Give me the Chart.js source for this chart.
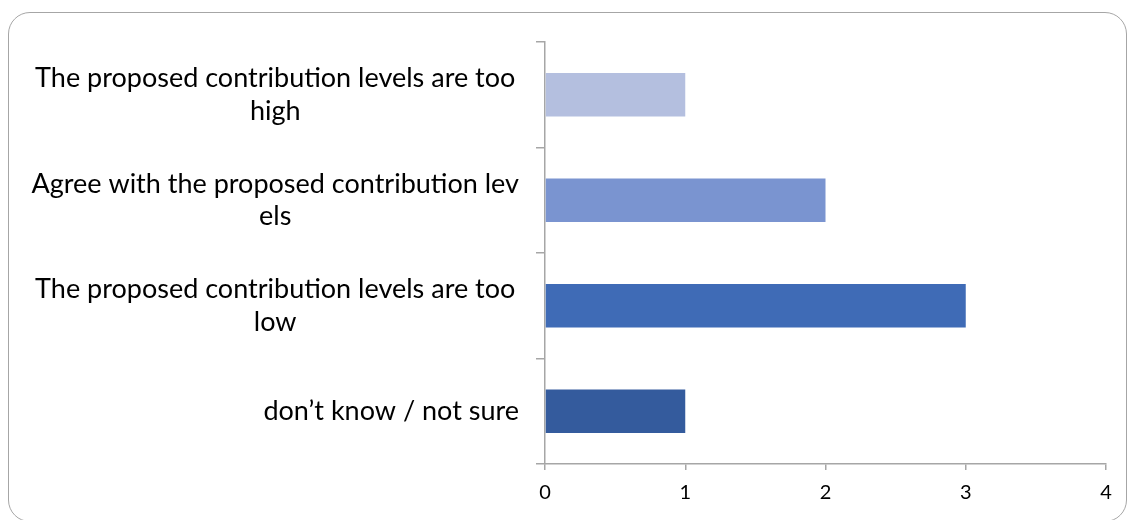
<!DOCTYPE html>
<html>
<head>
<meta charset="utf-8">
<script src="https://cdn.jsdelivr.net/npm/chart.js@4/dist/chart.umd.min.js"></script>
<style>
  html, body { margin: 0; padding: 0; background: #fff; }
  #wrap { position: relative; width: 1129px; height: 520px; overflow: hidden; }
  #frame {
    position: absolute; left: 8px; top: 12px; width: 1119px; height: 510px;
    border: 1.5px solid #a6a6a6; border-radius: 22px; box-sizing: border-box;
    pointer-events: none;
  }
</style>
</head>
<body>
<div id="wrap">
  <canvas id="myChart" width="1129" height="520"></canvas>
  <div id="frame"></div>
</div>
<script>
var categories = [
    ['The proposed contribution levels are too', 'high'],
    ['Agree with the proposed contribution lev', 'els'],
    ['The proposed contribution levels are too', 'low'],
    'don\u2019t know / not sure'
];
var responses = [1, 2, 3, 1];
var barColors = ['#b4bfdf', '#7a94d0', '#3f6bb6', '#345b9d'];
var xTicks = [0, 1, 2, 3, 4];

var yTickLen = 9, yTickPad = 17;

var ctx = document.getElementById('myChart').getContext('2d');
var myChart = new Chart(ctx, {
    type: 'bar',
    data: {
        labels: categories,
        datasets: [{
            data: responses,
            backgroundColor: barColors,
            borderWidth: 0,
            categoryPercentage: 0.41,
            barPercentage: 1
        }]
    },
    options: {
        indexAxis: 'y',
        responsive: false,
        animation: false,
        layout: { padding: { left: 14, right: 23, top: 42, bottom: 16 } },
        plugins: {
            legend: { display: false },
            tooltip: { enabled: false }
        },
        scales: {
            x: {
                min: xTicks[0],
                max: xTicks[xTicks.length - 1],
                afterFit: function (scale) { scale.height = 40; },
                ticks: {
                    stepSize: 1,
                    padding: 11,
                    color: '#000',
                    font: { family: 'Lato', size: 20 }
                },
                grid: { drawOnChartArea: false, tickLength: 6, color: '#a6a6a6', lineWidth: 1.5 },
                border: { color: '#a6a6a6', width: 1.5 }
            },
            y: {
                afterFit: function (scale) { scale.width = 545 - 14; },
                afterUpdate: function (scale) {
                    // multi-line labels: lines centred in their block; single-line: right aligned
                    if (scale._rightPatch) return;
                    var orig = scale._computeLabelItems;
                    scale._computeLabelItems = function (ca) {
                        var items = orig.call(this, ca);
                        items.forEach(function (it) {
                            if (!Array.isArray(it.label)) {
                                it.options.textAlign = 'right';
                                it.options.translation[0] = scale.right - yTickLen - yTickPad;
                            }
                        });
                        return items;
                    };
                    scale._rightPatch = true;
                },
                ticks: {
                    crossAlign: 'center',
                    padding: yTickPad,
                    color: '#000',
                    font: { family: 'Lato', size: 27, lineHeight: 1.19 }
                },
                grid: { drawOnChartArea: false, tickLength: yTickLen, color: '#a6a6a6', lineWidth: 1.5 },
                border: { color: '#a6a6a6', width: 1.5 }
            }
        }
    }
});
</script>
</body>
</html>
